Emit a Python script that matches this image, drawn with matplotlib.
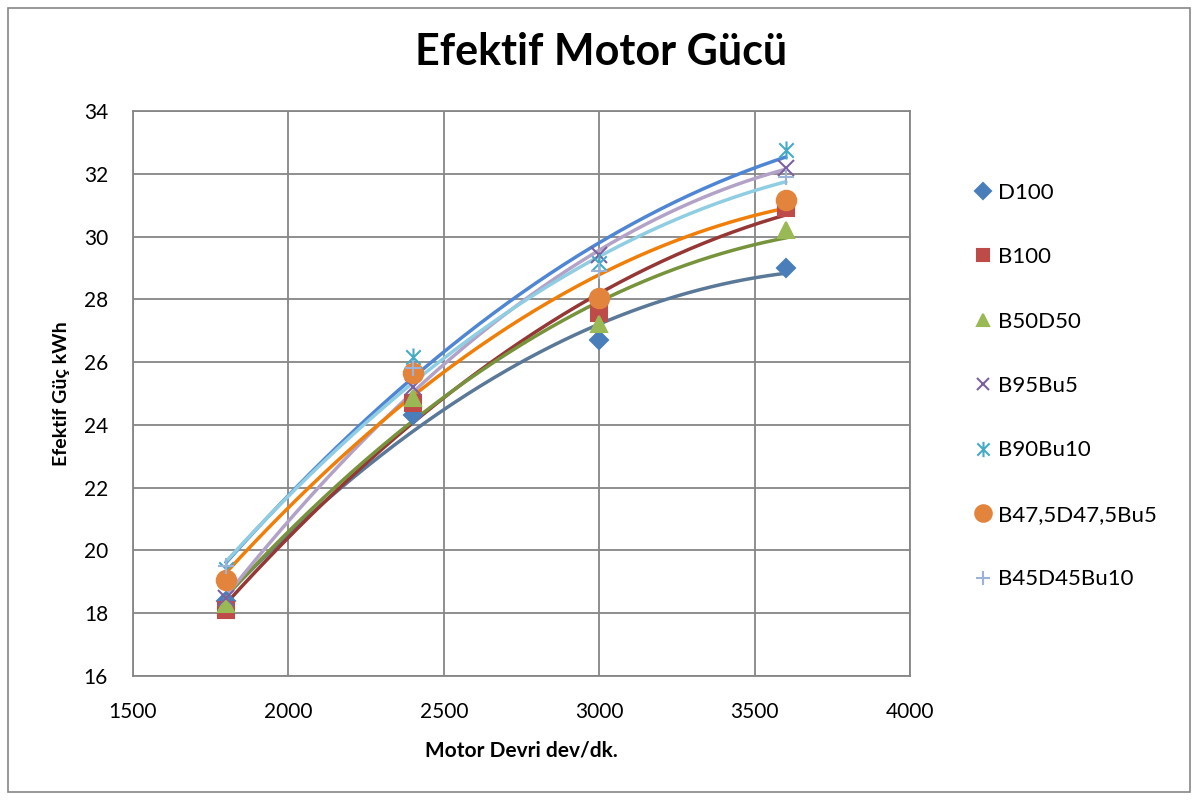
import numpy as np
import matplotlib
matplotlib.use("Agg")
import matplotlib.pyplot as plt
from matplotlib.patches import Rectangle
from matplotlib.lines import Line2D
from matplotlib.path import Path

plt.rcParams['font.family'] = ['Lato', 'DejaVu Sans']

rpm = [1800, 2400, 3000, 3600]
series_names = ["D100", "B100", "B50D50", "B95Bu5", "B90Bu10", "B47,5D47,5Bu5", "B45D45Bu10"]
d100 = [18.4, 24.3, 26.7, 29.0]
b100 = [18.1, 24.7, 27.55, 30.9]
b50d50 = [18.3, 24.85, 27.2, 30.2]
b95bu5 = [18.5, 25.2, 29.4, 32.2]
b90bu10 = [19.4, 26.15, 29.15, 32.75]
b475 = [19.05, 25.65, 28.05, 31.15]
b45d45bu10 = [19.5, 25.8, 28.9, 31.9]
values = [d100, b100, b50d50, b95bu5, b90bu10, b475, b45d45bu10]

star = Path([(0, -1), (0, 1), (-0.8, -0.8), (0.8, 0.8), (-0.8, 0.8), (0.8, -0.8)],
            [Path.MOVETO, Path.LINETO, Path.MOVETO, Path.LINETO, Path.MOVETO, Path.LINETO])

marker_styles = ['D', 's', '^', 'x', star, 'o', '+']
marker_colors = ['#4a7ebb', '#be4b48', '#98b954', '#7d60a0', '#46aac5', '#e3843c', '#9bb3d8']
marker_sizes = [9, 11, 11, 11, 13, 14, 12]
trend_colors = ['#5a7897', '#953735', '#77933c', '#b3a2c7', '#4f86d4', '#f07f09', '#8fcde2']

fig = plt.figure(figsize=(11.98, 8.0), dpi=100)
ax = fig.add_axes([133/1198, 1-676/800, (910-133)/1198, (676-111)/800])

xs = np.linspace(rpm[0], rpm[-1], 200)
for vals, tc in zip(values, trend_colors):
    coef = np.polyfit(rpm, vals, 2)
    ax.plot(xs, np.polyval(coef, xs), color=tc, lw=2.5, zorder=2)

handles = []
for name, vals, m, mc, ms in zip(series_names, values, marker_styles, marker_colors, marker_sizes):
    lw = 1.5
    ax.plot(rpm, vals, linestyle='none', marker=m, color=mc, markersize=ms,
            markeredgewidth=lw, zorder=3)
    handles.append(Line2D([], [], linestyle='none', marker=m, color=mc,
                          markersize=ms*0.85, markeredgewidth=lw, label=name))

ax.set_xlim(1500, 4000)
ax.set_ylim(16, 34)
ax.set_xticks(np.arange(1500, 4001, 500))
ax.set_yticks(np.arange(16, 35, 2))
ax.grid(True, color='#868686', lw=1.3)
ax.set_axisbelow(True)
for s in ax.spines.values():
    s.set_color('#868686')
    s.set_linewidth(1.3)
ax.tick_params(length=0, labelsize=15)
ax.tick_params(axis='x', pad=19)
ax.tick_params(axis='y', pad=18)

ax.set_xlabel("Motor Devri dev/dk.", fontsize=15, fontweight='bold', labelpad=13)
ax.set_ylabel("Efektif Güç kWh", fontsize=14, fontweight='bold', labelpad=10)
fig.text(601/1198, 1-52/800, "Efektif Motor Gücü", ha='center', va='center',
         fontsize=31, fontweight='bold')

fig.legend(handles=handles, loc='center left', bbox_to_anchor=(965/1198, 1-386/800),
           frameon=False, fontsize=16, labelspacing=2.0, handlelength=0.8,
           handletextpad=0.3, borderaxespad=0)

fig.patches.append(Rectangle((8/1198, 8/800), 1182/1198, 784/800, transform=fig.transFigure,
                             fill=False, edgecolor='#868686', lw=1.2))

fig.savefig("out.png", dpi=100)
